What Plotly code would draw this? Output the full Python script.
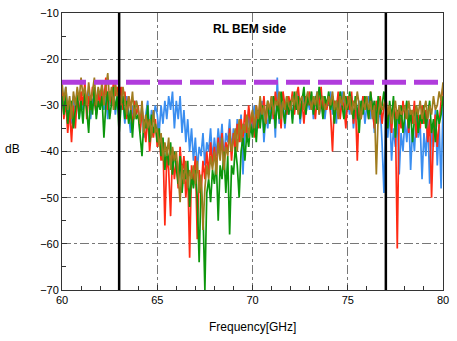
import numpy as np
import plotly.graph_objects as go

# frequency sweep, 0.1 GHz step
freq = np.round(np.linspace(60, 80, 201), 1)

blue_db = [
    -27, -30, -26, -32, -29, -34, -28, -31, -27, -33,
    -28, -31, -26, -30, -27, -33, -29, -28, -32, -27,
    -29, -26, -31, -28, -33, -27, -30, -26, -32, -28,
    -27, -31, -29, -34, -28, -32, -36, -30, -33, -29,
    -31, -35, -30, -37, -32, -29, -36, -31, -33, -30,
    -32, -36, -30, -34, -29, -33, -28, -31, -27, -35,
    -29, -33, -28, -36, -31, -38, -33, -40, -35, -42,
    -37, -44, -39, -41, -36, -43, -38, -40, -35, -42,
    -37, -41, -35, -39, -34, -42, -36, -38, -33, -40,
    -35, -39, -33, -37, -32, -45, -34, -38, -31, -36,
    -33, -30, -36, -31, -34, -29, -38, -32, -35, -30,
    -33, -29, -37, -24, -34, -31, -28, -35, -30, -32,
    -29, -33, -28, -31, -27, -34, -30, -28, -32, -29,
    -31, -28, -33, -29, -27, -32, -30, -28, -33, -29,
    -30, -27, -32, -29, -34, -28, -31, -27, -30, -33,
    -29, -32, -28, -35, -30, -33, -29, -31, -28, -34,
    -30, -28, -33, -29, -36, -31, -34, -30, -38, -49,
    -33, -37, -31, -42, -35, -39, -32, -45, -36, -40,
    -33, -38, -31, -44, -35, -40, -32, -37, -34, -46,
    -36, -41, -33, -47, -35, -39, -31, -43, -34, -48,
    -30,
]

red_db = [
    -26, -33, -29, -36, -31, -38, -30, -35, -28, -32,
    -27, -30, -25, -33, -28, -31, -26, -29, -32, -27,
    -30, -26, -29, -24, -31, -27, -30, -25, -28, -26,
    -29, -26, -31, -27, -33, -28, -30, -35, -29, -32,
    -30, -36, -31, -34, -38, -32, -40, -35, -37, -33,
    -39, -36, -42, -38, -56, -41, -44, -54, -40, -46,
    -42, -48, -39, -45, -41, -50, -44, -63, -43, -47,
    -41, -59, -44, -49, -42, -46, -40, -45, -38, -43,
    -39, -44, -37, -41, -36, -43, -38, -40, -35, -42,
    -36, -40, -34, -38, -33, -37, -31, -36, -30, -34,
    -32, -37, -30, -35, -29, -33, -28, -34, -30, -31,
    -28, -33, -27, -31, -29, -35, -27, -30, -32, -28,
    -30, -27, -32, -28, -26, -31, -29, -34, -28, -30,
    -27, -31, -29, -33, -28, -30, -26, -32, -29, -31,
    -28, -32, -40, -29, -31, -27, -33, -29, -30, -35,
    -28, -31, -27, -34, -29, -42, -30, -33, -28, -31,
    -29, -33, -27, -31, -35, -29, -32, -28, -34, -30,
    -28, -33, -30, -36, -29, -32, -61, -31, -35, -29,
    -33, -30, -36, -31, -34, -29, -37, -32, -35, -30,
    -34, -31, -38, -33, -50, -36, -32, -39, -33, -29,
    -26,
]

green_db = [
    -28, -32, -27, -34, -30, -29, -35, -31, -27, -33,
    -29, -34, -27, -31, -36, -28, -32, -26, -33, -29,
    -31, -28, -37, -30, -27, -33, -29, -26, -31, -28,
    -36, -30, -28, -33, -29, -34, -31, -37, -30, -33,
    -32, -37, -41, -33, -35, -30, -38, -32, -36, -34,
    -38, -35, -41, -37, -44, -39, -43, -38, -45, -40,
    -43, -47, -41, -49, -44, -46, -42, -52, -45, -48,
    -44, -50, -64, -47, -53, -70, -49, -46, -51, -44,
    -47, -42, -55, -43, -46, -40, -49, -41, -58, -43,
    -45, -39, -43, -50, -40, -37, -42, -36, -39, -34,
    -37, -33, -38, -31, -35, -30, -36, -32, -29, -34,
    -31, -28, -35, -29, -33, -27, -31, -34, -28, -32,
    -29, -34, -27, -31, -28, -33, -29, -26, -32, -28,
    -30, -27, -32, -28, -31, -26, -29, -33, -28, -30,
    -27, -31, -28, -34, -29, -32, -27, -30, -33, -28,
    -31, -27, -30, -33, -28, -31, -36, -29, -32, -28,
    -30, -33, -27, -31, -29, -34, -28, -32, -30, -27,
    -31, -35, -29, -33, -28, -37, -31, -34, -30, -36,
    -32, -29, -35, -31, -38, -33, -30, -36, -32, -34,
    -30, -35, -32, -29, -36, -33, -38, -31, -34, -32,
    -28,
]

olive_db = [
    -25, -29, -26, -31, -28, -33, -27, -30, -26, -29,
    -24, -28, -26, -30, -25, -29, -27, -24, -30, -26,
    -28, -25, -30, -27, -23, -29, -26, -31, -25, -28,
    -27, -30, -26, -29, -32, -28, -31, -27, -33, -29,
    -31, -34, -29, -36, -32, -35, -33, -37, -31, -36,
    -35, -39, -36, -42, -38, -41, -37, -44, -39, -42,
    -40, -45, -51, -43, -47, -42, -48, -44, -46, -43,
    -47, -42, -49, -45, -57, -48, -43, -46, -41, -44,
    -40, -45, -38, -42, -37, -44, -39, -41, -36, -40,
    -37, -35, -40, -33, -38, -34, -36, -32, -37, -33,
    -31, -35, -30, -33, -28, -32, -30, -34, -29, -31,
    -28, -32, -29, -30, -27, -33, -29, -31, -28, -30,
    -31, -28, -30, -27, -32, -29, -28, -31, -29, -27,
    -29, -31, -28, -30, -27, -32, -29, -28, -31, -30,
    -28, -30, -27, -31, -29, -33, -28, -30, -27, -31,
    -30, -28, -32, -29, -31, -27, -30, -33, -29, -31,
    -28, -31, -29, -33, -30, -45, -32, -29, -31, -30,
    -29, -32, -30, -34, -31, -29, -33, -30, -32, -31,
    -30, -33, -29, -32, -31, -34, -30, -32, -29, -33,
    -31, -29, -33, -30, -32, -28, -31, -30, -27, -29,
    -25,
]

band_edges = [63, 77]
rl_limit = -25

series = [
    (blue_db, "#3a8ef0"),
    (red_db, "#ff2a14"),
    (green_db, "#0c960c"),
    (olive_db, "#a07c1e"),
]

fig = go.Figure()
for vals, col in series:
    fig.add_trace(go.Scatter(x=freq, y=vals, mode="lines",
                             line=dict(color=col, width=1.7),
                             showlegend=False, hoverinfo="skip"))

for xe in band_edges:
    fig.add_shape(type="line", x0=xe, x1=xe, y0=-70, y1=-10,
                  xref="x", yref="y", line=dict(color="black", width=2.5))

fig.add_shape(type="line", x0=60, x1=80, y0=rl_limit, y1=rl_limit,
              xref="x", yref="y",
              line=dict(color="#b03cdc", width=5, dash="24px,8px"))

axis_common = dict(
    showline=True, linecolor="#333333", linewidth=1, mirror=True,
    ticks="inside", ticklen=5, tickcolor="#333333",
    showgrid=True, gridcolor="#777777", griddash="dashdot", gridwidth=1,
    zeroline=False, tickfont=dict(family="Liberation Sans", size=11, color="black"),
)

fig.update_xaxes(range=[60, 80], dtick=5, tick0=60,
                 minor=dict(dtick=1, ticklen=4, tickcolor="#333333", ticks="inside"),
                 **axis_common)
fig.update_yaxes(range=[-70, -10], dtick=10, tick0=-70,
                 minor=dict(dtick=5, ticklen=4, tickcolor="#333333", ticks="inside"),
                 **axis_common)

txt_font = dict(family="Liberation Sans", size=12, color="black")
fig.add_annotation(text="<b>RL BEM side</b>", x=0.492, y=0.942, xref="paper", yref="paper",
                   showarrow=False, font=txt_font, xanchor="center", yanchor="middle")
fig.add_annotation(text="dB", x=-0.131, y=0.51, xref="paper", yref="paper",
                   showarrow=False, xanchor="center", yanchor="middle", font=txt_font)
fig.add_annotation(text="Frequency[GHz]", x=0.5, y=-0.134, xref="paper", yref="paper",
                   showarrow=False, xanchor="center", yanchor="middle", font=txt_font)

fig.update_layout(
    width=457, height=341,
    margin=dict(l=62, r=14, t=13, b=51, autoexpand=False),
    plot_bgcolor="white", paper_bgcolor="white",
)

# drop the default 8px body margin so the figure fills the window
fig.write_html("out.html", config={"displayModeBar": False},
               post_script="document.body.style.margin='0';")
